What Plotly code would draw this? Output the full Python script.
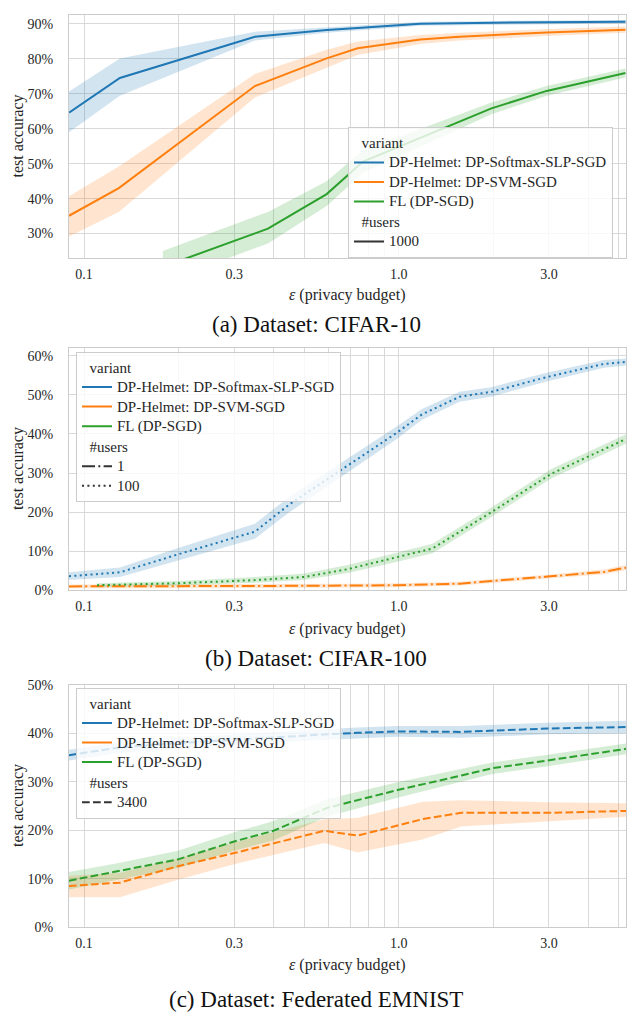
import math
import plotly.graph_objects as go

W, H = 633, 1019


def fx(px):
    return px / W


def fy(py):
    return 1 - py / H


FONT = "'Liberation Serif', 'Times New Roman', 'DejaVu Serif', serif"
TXT = "#262626"
GRID = "#d9d9d9"
SPINE = "#cccccc"

BLUE, ORANGE, GREEN = "#1f77b4", "#ff7f0e", "#2ca02c"
FILL = {BLUE: "rgba(31,119,180,0.2)", ORANGE: "rgba(255,127,14,0.2)", GREEN: "rgba(44,160,44,0.2)"}
DASH = {"solid": "solid", "dash": "7.7px,3.3px", "dot": "2px,3.4px", "dashdot": "13px,3.3px,2px,3.3px"}

variants = ["DP-Helmet: DP-Softmax-SLP-SGD", "DP-Helmet: DP-SVM-SGD", "FL (DP-SGD)"]

# ---------------- (a) CIFAR-10, 1000 users ----------------
c10_soft_x = [0.0896, 0.130, 0.349, 0.59, 0.74, 1.0, 1.17, 2.0, 3.0, 5.25]
c10_soft_y = [64.6, 74.5, 86.3, 88.2, 88.8, 89.5, 90.0, 90.3, 90.4, 90.6]
c10_soft_hi = [70.6, 80.1, 87.7, 89.0, 89.5, 90.1, 90.6, 90.8, 90.9, 91.1]
c10_soft_lo = [59.0, 69.4, 85.2, 87.4, 88.1, 88.9, 89.4, 89.8, 89.9, 90.1]

c10_svm_x = [0.0896, 0.129, 0.349, 0.59, 0.74, 1.17, 1.56, 2.95, 5.25]
c10_svm_y = [35.1, 43.0, 72.2, 80.1, 83.0, 85.5, 86.3, 87.5, 88.3]
c10_svm_hi = [40.7, 49.2, 75.6, 82.6, 84.9, 86.8, 87.4, 88.5, 89.2]
c10_svm_lo = [29.2, 36.2, 68.9, 77.4, 81.1, 84.2, 85.2, 86.5, 87.4]

c10_fl_x = [0.178, 0.384, 0.59, 0.77, 1.97, 2.95, 5.25]
c10_fl_y = [20.5, 31.4, 41.3, 50.6, 65.8, 70.8, 75.9]
c10_fl_hi = [25.0, 36.2, 45.0, 53.8, 67.5, 72.2, 77.2]
c10_fl_lo = [16.0, 27.2, 37.9, 47.4, 64.1, 69.4, 74.6]

# ---------------- (b) CIFAR-100 ----------------
c100_soft_x = [0.0896, 0.130, 0.199, 0.349, 0.45, 0.688, 0.99, 1.185, 1.56, 1.98, 2.97, 4.49, 5.27]
c100_soft_y = [3.6, 4.6, 9.2, 15.0, 22.0, 31.9, 40.4, 45.0, 49.5, 50.8, 54.6, 57.9, 58.4]
c100_soft_hi = [4.6, 5.8, 10.8, 17.0, 24.0, 33.6, 42.0, 46.4, 50.8, 52.0, 55.7, 58.9, 59.3]
c100_soft_lo = [2.6, 3.4, 7.6, 13.2, 20.0, 30.2, 38.8, 43.6, 48.2, 49.6, 53.5, 56.9, 57.5]

c100_svm_x = [0.0896, 0.130, 0.349, 0.688, 0.99, 1.56, 1.98, 2.97, 4.49, 5.27]
c100_svm_y = [1.0, 1.0, 1.1, 1.2, 1.3, 1.7, 2.3, 3.5, 4.7, 5.8]
c100_svm_hi = [1.5, 1.5, 1.6, 1.7, 1.8, 2.2, 2.8, 4.0, 5.3, 6.5]
c100_svm_lo = [0.5, 0.5, 0.6, 0.7, 0.8, 1.2, 1.8, 3.0, 4.1, 5.1]

c100_fl_x = [0.11, 0.199, 0.349, 0.50, 0.688, 0.99, 1.28, 1.98, 3.05, 5.27]
c100_fl_y = [1.3, 1.8, 2.6, 3.4, 5.4, 8.4, 10.7, 20.1, 29.8, 38.7]
c100_fl_hi = [1.8, 2.4, 3.4, 4.3, 6.5, 9.6, 11.9, 21.3, 31.0, 39.9]
c100_fl_lo = [0.8, 1.2, 1.9, 2.6, 4.4, 7.3, 9.5, 18.9, 28.6, 37.5]

# ---------------- (c) Federated EMNIST, 3400 users ----------------
em_soft_x = [0.0896, 0.130, 0.199, 0.349, 0.59, 0.74, 0.99, 1.58, 2.97, 5.27]
em_soft_y = [35.5, 37.1, 38.0, 39.0, 39.8, 40.1, 40.4, 40.3, 41.0, 41.3]
em_soft_hi = [36.6, 38.2, 39.1, 40.1, 40.9, 41.2, 41.5, 41.5, 42.2, 42.6]
em_soft_lo = [34.4, 36.0, 36.9, 37.9, 38.7, 39.0, 39.3, 39.1, 39.8, 40.0]

em_svm_x = [0.0896, 0.130, 0.199, 0.30, 0.58, 0.74, 1.19, 1.58, 2.97, 5.27]
em_svm_y = [8.5, 9.2, 12.6, 15.3, 19.9, 18.9, 22.3, 23.6, 23.6, 24.0]
em_svm_hi = [10.6, 11.2, 14.2, 17.5, 22.3, 22.6, 25.9, 26.2, 25.8, 25.6]
em_svm_lo = [6.2, 6.2, 9.8, 13.0, 17.4, 15.4, 18.1, 20.8, 21.8, 22.8]

em_fl_x = [0.0896, 0.130, 0.199, 0.30, 0.40, 0.59, 0.99, 1.58, 1.98, 2.97, 5.27]
em_fl_y = [9.6, 11.6, 14.0, 17.7, 19.9, 24.6, 28.3, 31.3, 32.8, 34.4, 36.8]
em_fl_hi = [11.4, 13.3, 15.8, 19.6, 21.9, 26.4, 29.9, 32.6, 34.0, 35.6, 37.9]
em_fl_lo = [7.8, 9.9, 12.2, 15.8, 17.9, 22.8, 26.7, 30.0, 31.6, 33.2, 35.7]

tick_vals = [0.1, 0.2, 0.3, 0.4, 0.5, 0.6, 0.7, 0.8, 0.9, 1.0, 2.0, 3.0, 4.0, 5.0]
tick_text = ["0.1", "", "0.3", "", "", "", "", "", "", "1.0", "", "3.0", "", ""]

panels = [
    dict(caption="(a) Dataset: CIFAR-10", yr=[22.95, 92.54], top=8, bot=255,
         leg=(348, 122), labely=292, capy=322,
         series=[(c10_soft_x, c10_soft_y, c10_soft_hi, c10_soft_lo, BLUE, "solid"),
                 (c10_svm_x, c10_svm_y, c10_svm_hi, c10_svm_lo, ORANGE, "solid"),
                 (c10_fl_x, c10_fl_y, c10_fl_hi, c10_fl_lo, GREEN, "solid")],
         users=[("1000", "solid")]),
    dict(caption="(b) Dataset: CIFAR-100", yr=[0, 62.0], top=346, bot=592,
         leg=(76, 350), labely=631, capy=661,
         series=[(c100_soft_x, c100_soft_y, c100_soft_hi, c100_soft_lo, BLUE, "dot"),
                 (c100_svm_x, c100_svm_y, c100_svm_hi, c100_svm_lo, ORANGE, "dashdot"),
                 (c100_fl_x, c100_fl_y, c100_fl_hi, c100_fl_lo, GREEN, "dot")],
         users=[("1", "dashdot"), ("100", "dot")]),
    dict(caption="(c) Dataset: Federated EMNIST", yr=[0, 50], top=688, bot=934,
         leg=(76, 691), labely=972, capy=1007,
         series=[(em_soft_x, em_soft_y, em_soft_hi, em_soft_lo, BLUE, "dash"),
                 (em_svm_x, em_svm_y, em_svm_hi, em_svm_lo, ORANGE, "dash"),
                 (em_fl_x, em_fl_y, em_fl_hi, em_fl_lo, GREEN, "dash")],
         users=[("3400", "dash")]),
]

all_x = [v for p in panels for s in p["series"] for v in s[0]]
xr = [math.log10(min(all_x)), math.log10(max(all_x))]


def big(t):
    return '<span style="font-size:15px">' + t + "</span>"


fig = go.Figure()
annotations = []
X0, X1 = 69, 626
LEG_FS = 12.7

for i, p in enumerate(panels):
    sfx = "" if i == 0 else str(i + 1)
    xa, ya, lg = "x" + sfx, "y" + sfx, "legend" + sfx
    for xs, ys, hi, lo, col, dash in p["series"]:
        fig.add_trace(go.Scatter(x=list(xs) + list(xs)[::-1], y=list(hi) + list(lo)[::-1],
                                 fill="toself", fillcolor=FILL[col], line=dict(width=0),
                                 mode="lines", hoverinfo="skip", showlegend=False,
                                 xaxis=xa, yaxis=ya))
    for xs, ys, hi, lo, col, dash in p["series"]:
        fig.add_trace(go.Scatter(x=xs, y=ys, mode="lines",
                                 line=dict(color=col, width=2, dash=DASH[dash]),
                                 showlegend=False, xaxis=xa, yaxis=ya))
    # legend entries
    for j, (name, col) in enumerate(zip(variants, [BLUE, ORANGE, GREEN])):
        fig.add_trace(go.Scatter(x=[None], y=[None], mode="lines", name=big(name),
                                 line=dict(color=col, width=2),
                                 legendgroup="variant" + sfx,
                                 legendgrouptitle=dict(text=big("\u00a0\u00a0variant")) if j == 0 else None,
                                 legend=lg, xaxis=xa, yaxis=ya))
    for j, (name, dash) in enumerate(p["users"]):
        fig.add_trace(go.Scatter(x=[None], y=[None], mode="lines", name=big(name),
                                 line=dict(color="#333333", width=2, dash=DASH[dash]),
                                 legendgroup="users" + sfx,
                                 legendgrouptitle=dict(text=big("\u00a0\u00a0#users")) if j == 0 else None,
                                 legend=lg, xaxis=xa, yaxis=ya))

    dom_y = [fy(p["bot"]), fy(p["top"])]
    fig.update_layout(**{
        "xaxis" + sfx: dict(type="log", range=xr, domain=[fx(X0), fx(X1)], anchor=ya,
                            tickvals=tick_vals, ticktext=tick_text, ticks="",
                            showgrid=True, gridcolor=GRID, gridwidth=1,
                            showline=True, linecolor=SPINE, linewidth=1.25, mirror=True,
                            zeroline=False, ticklabelstandoff=3,
                            tickfont=dict(family=FONT, size=14, color=TXT)),
        "yaxis" + sfx: dict(range=p["yr"], domain=dom_y, anchor=xa, dtick=10, tick0=0,
                            ticksuffix="%", ticks="", showgrid=True, gridcolor=GRID,
                            gridwidth=1, showline=True, linecolor=SPINE, linewidth=1.25,
                            mirror=True, zeroline=False, ticklabelstandoff=12,
                            tickfont=dict(family=FONT, size=14, color=TXT)),
        lg: dict(x=fx(p["leg"][0]), y=fy(p["leg"][1]), xanchor="left", yanchor="top",
                 bgcolor="rgba(255,255,255,0.8)", bordercolor=SPINE, borderwidth=1,
                 font=dict(family=FONT, size=LEG_FS, color=TXT), itemwidth=30,
                 tracegroupgap=1, traceorder="grouped",
                 grouptitlefont=dict(family=FONT, size=LEG_FS, color=TXT)),
    })
    annotations.append(dict(text="test accuracy", x=fx(18), y=(dom_y[0] + dom_y[1]) / 2,
                            xref="paper", yref="paper", textangle=-90, showarrow=False,
                            xanchor="center", yanchor="middle",
                            font=dict(family=FONT, size=16, color=TXT)))
    annotations.append(dict(text="<i>ε</i> (privacy budget)", x=fx((X0 + X1) / 2),
                            y=fy(p["labely"]), xref="paper", yref="paper",
                            showarrow=False, xanchor="center", yanchor="middle",
                            font=dict(family=FONT, size=16, color=TXT)))
    annotations.append(dict(text=p["caption"], x=fx(316), y=fy(p["capy"]),
                            xref="paper", yref="paper", showarrow=False,
                            xanchor="center", yanchor="middle",
                            font=dict(family=FONT, size=23, color="#111111")))

fig.update_layout(width=W, height=H, margin=dict(l=0, r=0, t=0, b=0),
                  paper_bgcolor="white", plot_bgcolor="white",
                  font=dict(family=FONT, color=TXT),
                  annotations=annotations, showlegend=True)

# remove the default 8px page margin so the figure fills the 633x1019 window exactly
fig.write_html("out.html", config={"displayModeBar": False},
               post_script="document.body.style.margin='0px';")
